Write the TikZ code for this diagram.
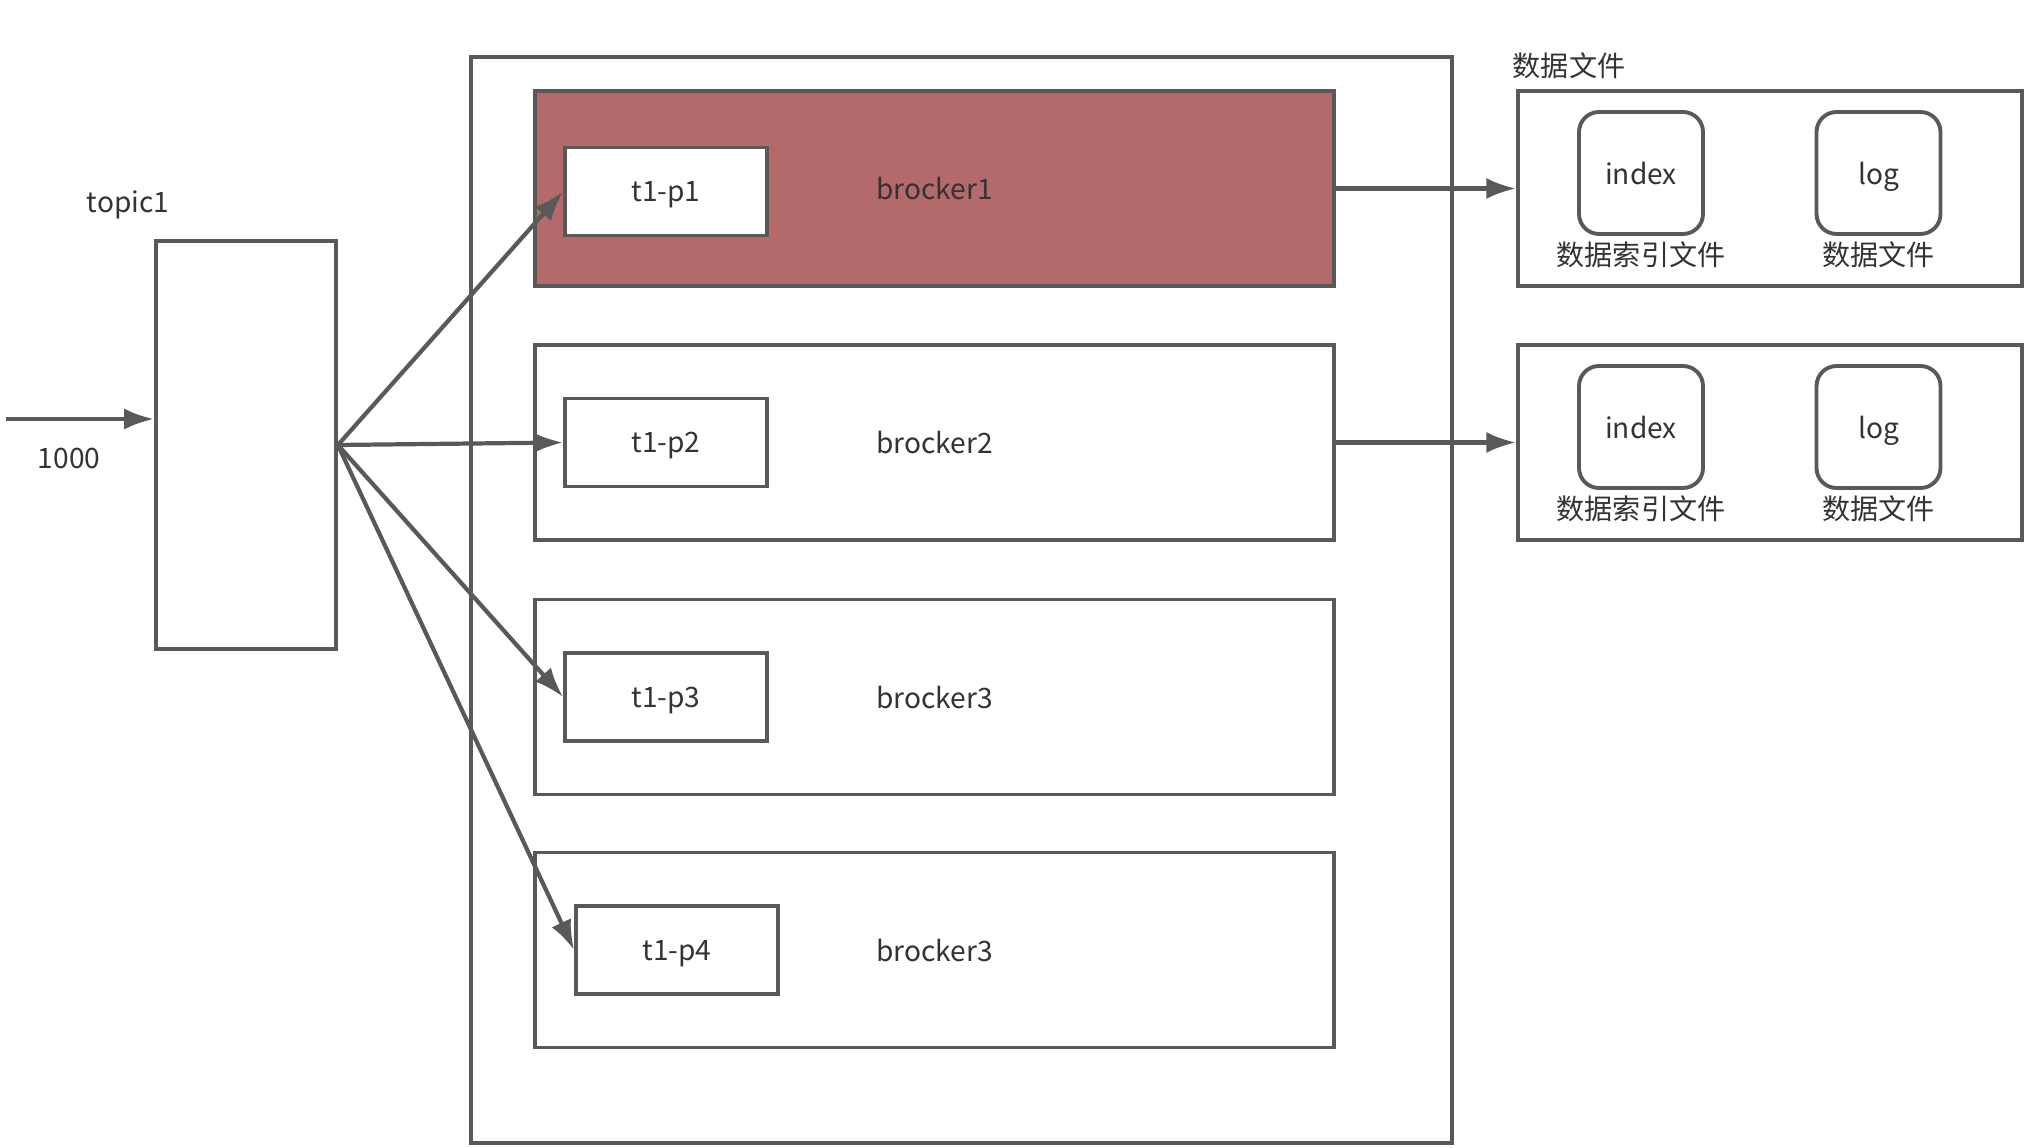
\documentclass[tikz,border=0pt]{standalone}
\usepackage{fontspec}
\setmainfont{Noto Sans CJK SC}
\usepackage{tikz}
\usetikzlibrary{arrows.meta}
\usetikzlibrary{positioning}

\definecolor{linegray}{HTML}{595959}
\definecolor{textgray}{HTML}{333333}
\definecolor{brockred}{HTML}{B46A6A}

\begin{document}
\begin{tikzpicture}
      [x=0.02cm,y=-0.02cm,
       font=\fontsize{16}{19}\selectfont,text=textgray,
       box/.style={rectangle,draw=linegray,line width=2.2pt,fill=white,inner sep=0pt,text depth=0pt},
       brocker/.style={box,minimum width=15.98cm,minimum height=3.9cm},
       part/.style={box,minimum width=4.04cm,minimum height=1.76cm},
       files/.style={box,minimum width=10.08cm,minimum height=3.9cm},
       seg/.style={box,rounded corners=0.4cm,minimum width=2.48cm,minimum height=2.44cm},
       caption/.style={below=0pt of #1},
       feed/.style={line width=2.4pt,draw=linegray,-{Latex[length=17pt,width=12pt]}}]
      \useasboundingbox (0,0) rectangle (2035,1148);
      % place nodes
      \node[box,minimum width=19.62cm,minimum height=21.72cm] (cluster) at (961.5,600) {};
      \node[box,minimum width=3.6cm,minimum height=8.16cm] (topic) at (246,445) {};
      \node (topiclabel) at (128,205) {topic1};
      \node (count) at (69,458) {1000};
      \coordinate (source) at (6,419);
      \node[brocker,fill=brockred] (b1) at (934.5,188.5) {};
      \node[brocker] (b2) at (934.5,442.5) {};
      \node[brocker] (b3) at (934.5,697) {};
      \node[brocker] (b4) at (934.5,950) {};
      \node at (b1) {brocker1};
      \node at (b2) {brocker2};
      \node at (b3) {brocker3};
      \node at (b4) {brocker3};
      \node[part] (p1) at (666,191.5) {t1-p1};
      \node[part] (p2) at (666,442.5) {t1-p2};
      \node[part] (p3) at (666,697) {t1-p3};
      \node[part] (p4) at (677,950) {t1-p4};
      % data files
      \node (filetitle) at (1569,66) {数据文件};
      \node[files] (f1) at (1770,188.5) {};
      \node[files] (f2) at (1770,442.5) {};
      \node[seg] (index1) at (1641,173) {index};
      \node[seg] (log1) at (1878.5,173) {log};
      \node[seg] (index2) at (1641,427) {index};
      \node[seg] (log2) at (1878.5,427) {log};
      \node[caption=index1] {数据索引文件};
      \node[caption=log1] {数据文件};
      \node[caption=index2] {数据索引文件};
      \node[caption=log2] {数据文件};
      % add edges
      \draw [feed] (source) -- (source -| topic.west);
      \draw [feed] (topic.east) -- (p1.west);
      \draw [feed] (topic.east) -- (p2.west);
      \draw [feed] (topic.east) -- (p3.west);
      \draw [feed] (topic.east) -- (p4.west);
      \draw [feed] (b1.east) -- (f1.west);
      \draw [feed] (b2.east) -- (f2.west);
    \end{tikzpicture}
\end{document}
